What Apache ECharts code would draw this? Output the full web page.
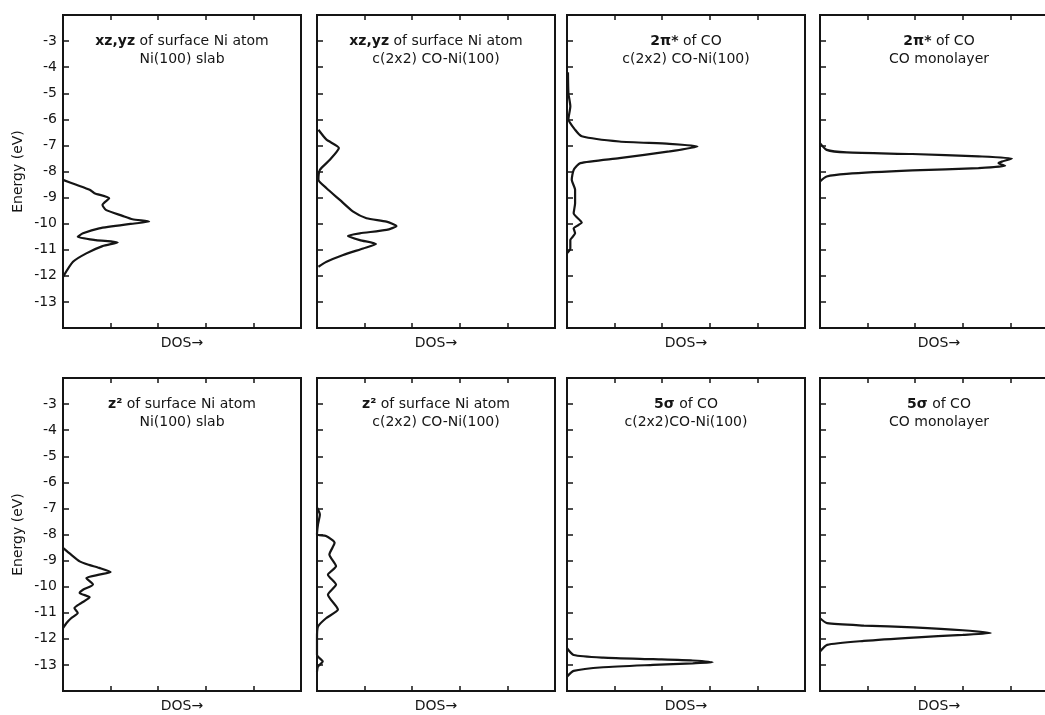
<!DOCTYPE html>
<html>
<head>
<meta charset="utf-8">
<script src="https://cdn.jsdelivr.net/npm/echarts@6/dist/echarts.min.js"></script>
<style>
  html, body { margin: 0; background: #fff; overflow: hidden; }
  /* the last column runs past the right edge of the page, as in the scan */
  #chart { width: 1075px; height: 715px; }
</style>
</head>
<body>
<div id="chart"></div>
<script>
// energy axis (eV)
const energyMin = -14
const energyMax = -2
const dosMax = 5

// top row: xz,yz of surface Ni atom, Ni(100) slab
const xzSlabEnergy = [-8.32, -8.51, -8.7, -8.83, -9.03, -9.28, -9.47, -9.7, -9.83, -9.92, -10.01, -10.18, -10.37, -10.5, -10.63, -10.72, -10.86, -11.14, -11.46, -12.04]
const xzSlabDos = [0, 0.28, 0.56, 0.66, 0.97, 0.83, 0.9, 1.25, 1.46, 1.81, 1.42, 0.76, 0.42, 0.31, 0.69, 1.15, 0.83, 0.49, 0.21, 0]

// xz,yz of surface Ni atom, c(2x2) CO-Ni(100)
const xzCoNiEnergy = [-6.4, -6.78, -7.1, -7.55, -7.94, -8.32, -8.64, -9.09, -9.54, -9.79, -9.92, -10.09, -10.24, -10.37, -10.47, -10.63, -10.78, -10.95, -11.2, -11.46, -11.65]
const xzCoNiDos = [0.03, 0.2, 0.46, 0.27, 0.06, 0.03, 0.2, 0.48, 0.76, 1.04, 1.46, 1.67, 1.46, 0.9, 0.65, 0.9, 1.24, 0.97, 0.55, 0.2, 0.03]

// 2pi* of CO, c(2x2) CO-Ni(100)
const piCoNiEnergy = [-4.2, -5.0, -5.5, -6.0, -6.4, -6.65, -6.85, -6.94, -7.04, -7.23, -7.49, -7.68, -7.94, -8.32, -8.7, -9.22, -9.6, -9.96, -10.18, -10.37, -10.63, -10.95, -11.14]
const piCoNiDos = [0.02, 0.03, 0.07, 0.03, 0.17, 0.31, 1.1, 2.15, 2.74, 2.15, 1.1, 0.28, 0.14, 0.1, 0.17, 0.17, 0.14, 0.31, 0.14, 0.17, 0.07, 0.07, 0]

// 2pi* of CO, CO monolayer
const piMonoEnergy = [-6.91, -7.17, -7.27, -7.33, -7.42, -7.5, -7.62, -7.68, -7.78, -7.87, -7.96, -8.09, -8.19, -8.38]
const piMonoDos = [0, 0.14, 0.56, 1.94, 3.33, 4.03, 3.82, 3.75, 3.89, 3.33, 1.94, 0.56, 0.14, 0]

// bottom row: z2 of surface Ni atom, Ni(100) slab
const z2SlabEnergy = [-8.51, -8.77, -9.03, -9.15, -9.28, -9.44, -9.54, -9.67, -9.92, -10.12, -10.24, -10.41, -10.63, -10.82, -11.01, -11.21, -11.4, -11.59]
const z2SlabDos = [0, 0.17, 0.35, 0.52, 0.76, 1.0, 0.76, 0.49, 0.63, 0.42, 0.35, 0.56, 0.38, 0.24, 0.31, 0.17, 0.07, 0]

// z2 of surface Ni atom, c(2x2) CO-Ni(100)
const z2CoNiEnergy = [-6.97, -7.23, -7.62, -8.0, -8.06, -8.32, -8.77, -9.22, -9.54, -9.92, -10.31, -10.88, -11.21, -11.53, -11.97, -12.62, -12.87, -13.06, -13.26]
const z2CoNiDos = [0, 0.06, 0.02, 0, 0.19, 0.37, 0.26, 0.4, 0.23, 0.4, 0.23, 0.44, 0.19, 0.02, 0, 0, 0.12, 0.02, 0]

// 5sigma of CO, c(2x2) CO-Ni(100)
const sigmaCoNiEnergy = [-12.36, -12.62, -12.72, -12.78, -12.83, -12.9, -12.94, -13.0, -13.09, -13.23, -13.45]
const sigmaCoNiDos = [0, 0.14, 0.76, 1.81, 2.64, 3.06, 2.64, 1.81, 0.76, 0.14, 0]

// 5sigma of CO, CO monolayer
const sigmaMonoEnergy = [-11.21, -11.4, -11.49, -11.56, -11.67, -11.78, -11.85, -11.95, -12.08, -12.23, -12.49]
const sigmaMonoDos = [0, 0.15, 0.92, 1.96, 3.0, 3.59, 3.0, 1.96, 0.92, 0.15, 0]

const panelTitles = [
  '{b|xz,yz} of surface Ni atom\nNi(100) slab',
  '{b|xz,yz} of surface Ni atom\nc(2x2) CO-Ni(100)',
  '{b|2π*} of CO\nc(2x2) CO-Ni(100)',
  '{b|2π*} of CO\nCO monolayer',
  '{b|z²} of surface Ni atom\nNi(100) slab',
  '{b|z²} of surface Ni atom\nc(2x2) CO-Ni(100)',
  '{b|5σ} of CO\nc(2x2)CO-Ni(100)',
  '{b|5σ} of CO\nCO monolayer'
]

const panelData = [
  [xzSlabDos, xzSlabEnergy],
  [xzCoNiDos, xzCoNiEnergy],
  [piCoNiDos, piCoNiEnergy],
  [piMonoDos, piMonoEnergy],
  [z2SlabDos, z2SlabEnergy],
  [z2CoNiDos, z2CoNiEnergy],
  [sigmaCoNiDos, sigmaCoNiEnergy],
  [sigmaMonoDos, sigmaMonoEnergy]
]

const colLeft = [63, 317, 567, 820]
const rowTop = [15, 378]
const panelWidth = 238
const panelHeight = 313
const ink = '#151515'
const font = 'DejaVu Sans'

const chart = echarts.init(document.getElementById('chart'))

const grid = []
const xAxis = []
const yAxis = []
const series = []
const graphic = []

panelData.forEach(function (pair, i) {
  const col = i % 4
  const row = Math.floor(i / 4)
  grid.push({
    left: colLeft[col],
    top: rowTop[row],
    width: panelWidth,
    height: panelHeight,
    show: true,
    borderColor: ink,
    borderWidth: 2,
    backgroundColor: 'transparent'
  })
  // bottom axis with the DOS label
  xAxis.push({
    type: 'value',
    gridIndex: i,
    min: 0,
    max: dosMax,
    interval: 1,
    position: 'bottom',
    name: 'DOS→',
    nameLocation: 'middle',
    nameGap: 8,
    nameTextStyle: { fontFamily: font, fontSize: 14, color: ink },
    axisLine: { show: true, lineStyle: { color: ink, width: 2 } },
    axisTick: { show: true, inside: true, length: 5, lineStyle: { color: ink, width: 1.5 } },
    axisLabel: { show: false },
    splitLine: { show: false }
  })
  yAxis.push({
    type: 'value',
    gridIndex: i,
    min: energyMin,
    max: energyMax,
    interval: 1,
    name: col === 0 ? 'Energy (eV)' : '',
    nameLocation: 'middle',
    nameGap: 38,
    nameTextStyle: { fontFamily: font, fontSize: 14, color: ink },
    axisLine: { show: true, lineStyle: { color: ink, width: 2 } },
    axisTick: { show: true, inside: true, length: 6, lineStyle: { color: ink, width: 1.5 } },
    axisLabel: {
      show: col === 0,
      margin: 6,
      fontFamily: font,
      fontSize: 14,
      color: ink,
      formatter: function (v) {
        return v === energyMin || v === energyMax ? '' : String(v)
      }
    },
    splitLine: { show: false }
  })
  series.push({
    type: 'line',
    xAxisIndex: i,
    yAxisIndex: i,
    data: pair[0].map(function (d, k) { return [d, pair[1][k]] }),
    showSymbol: false,
    smooth: 0.2,
    lineStyle: { color: ink, width: 2.2 },
    silent: true
  })
  graphic.push({
    type: 'text',
    x: colLeft[col] + panelWidth / 2,
    y: rowTop[row] + 17,
    style: {
      text: panelTitles[i],
      align: 'center',
      verticalAlign: 'top',
      fontFamily: font,
      fontSize: 14,
      lineHeight: 18,
      fill: ink,
      rich: { b: { fontWeight: 'bold', fontFamily: font, fontSize: 14, lineHeight: 18 } }
    }
  })
})

// top axes carry only the inward ticks
panelData.forEach(function (pair, i) {
  xAxis.push({
    type: 'value',
    gridIndex: i,
    min: 0,
    max: dosMax,
    interval: 1,
    position: 'top',
    axisLine: { show: true, lineStyle: { color: ink, width: 2 } },
    axisTick: { show: true, inside: true, length: 5, lineStyle: { color: ink, width: 1.5 } },
    axisLabel: { show: false },
    splitLine: { show: false }
  })
})

chart.setOption({
  backgroundColor: '#fff',
  animation: false,
  grid: grid,
  xAxis: xAxis,
  yAxis: yAxis,
  series: series,
  graphic: graphic
})
</script>
</body>
</html>
